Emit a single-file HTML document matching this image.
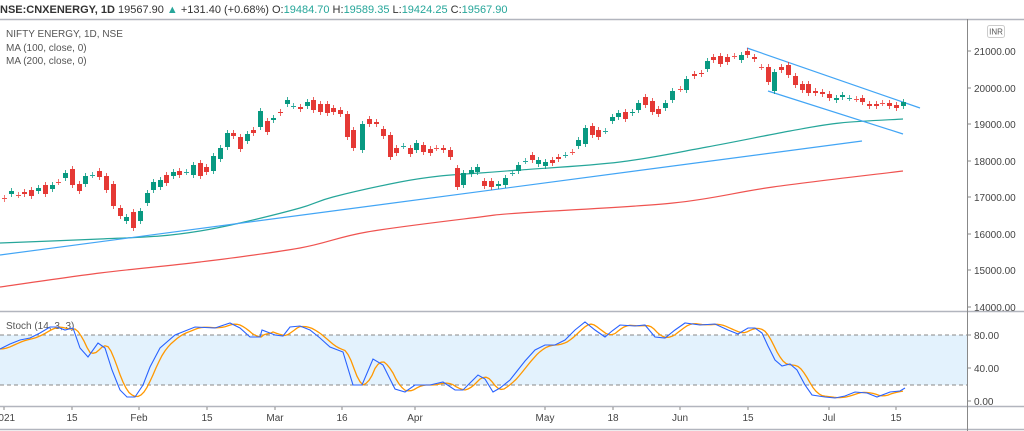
<!DOCTYPE html>
<html><head><meta charset="utf-8"><style>
html,body{margin:0;padding:0;background:#fff;width:1024px;height:431px;overflow:hidden;font-family:"Liberation Sans",sans-serif}
svg text{font-family:"Liberation Sans",sans-serif}
</style></head><body>
<svg id="s" width="1024" height="431" xmlns="http://www.w3.org/2000/svg">
<rect width="1024" height="431" fill="#fff"/>
<rect x="0" y="335" width="967" height="50" fill="#e3f2fd"/>
<line x1="0" y1="335" x2="967" y2="335" stroke="#888" stroke-dasharray="4,3" stroke-width="1"/>
<line x1="0" y1="385" x2="967" y2="385" stroke="#888" stroke-dasharray="4,3" stroke-width="1"/>
<line x1="0" y1="19.5" x2="1024" y2="19.5" stroke="#b2b5be" stroke-width="1.5"/>
<line x1="0" y1="311.5" x2="1024" y2="311.5" stroke="#b2b5be" stroke-width="1.5"/>
<line x1="0" y1="406.5" x2="1024" y2="406.5" stroke="#b2b5be" stroke-width="1.5"/>
<line x1="0" y1="429.5" x2="1024" y2="429.5" stroke="#b2b5be" stroke-width="1.5"/>
<line x1="967.5" y1="19" x2="967.5" y2="431" stroke="#888" stroke-width="1"/>
<text x="0" y="13" font-size="11" fill="#333"><tspan font-weight="bold">NSE:CNXENERGY, 1D</tspan> 19567.90 <tspan fill="#26a69a">▲</tspan> +131.40 (+0.68%) O:<tspan fill="#26a69a">19484.70</tspan> H:<tspan fill="#26a69a">19589.35</tspan> L:<tspan fill="#26a69a">19424.25</tspan> C:<tspan fill="#26a69a">19567.90</tspan></text>
<text x="6" y="37" font-size="10" fill="#555">NIFTY ENERGY, 1D, NSE</text>
<text x="6" y="51" font-size="10" fill="#555">MA (100, close, 0)</text>
<text x="6" y="64" font-size="10" fill="#555">MA (200, close, 0)</text>
<text x="6" y="329" font-size="10" fill="#555">Stoch (14, 3, 3)</text>
<rect x="987.5" y="25.5" width="17" height="12" rx="2" fill="#fff" stroke="#ccc"/>
<text x="996" y="34.5" font-size="8" fill="#555" text-anchor="middle">INR</text>
<g id="g"></g>
</svg>
<script>
var g=document.getElementById('g'),NS='http://www.w3.org/2000/svg';
function el(n,a){var e=document.createElementNS(NS,n);for(var k in a)e.setAttribute(k,a[k]);g.appendChild(e);return e;}
function txt(x,y,t,a,s){var e=el('text',{x:x,y:y,'font-size':s||10,fill:'#444','text-anchor':a||'start'});e.textContent=t;}
var p=[[21000,51],[20000,88],[19000,124],[18000,161],[17000,197],[16000,234],[15000,270],[14000,307]];
p.forEach(function(q){el('line',{x1:967,y1:q[1],x2:971,y2:q[1],stroke:'#888'});txt(974,q[1]+4,q[0]+'.00');});
[[80,335],[40,368],[0,401]].forEach(function(q){el('line',{x1:967,y1:q[1],x2:971,y2:q[1],stroke:'#888'});txt(974,q[1]+4,q[0].toFixed(2));});
[[4,'2021'],[72,'15'],[139,'Feb'],[207,'15'],[275,'Mar'],[342,'16'],[415,'Apr'],[545,'May'],[613,'18'],[680,'Jun'],[748,'15'],[829,'Jul'],[896,'15']].forEach(function(q){el('line',{x1:q[0],y1:407,x2:q[0],y2:410,stroke:'#888'});txt(q[0],421,q[1],'middle');});
function pl(pts,c,w){el('polyline',{points:pts.map(function(a){return a.join(',')}).join(' '),fill:'none',stroke:c,'stroke-width':w||1.2});}
function sm(P,c,w){var d='M'+P[0][0]+','+P[0][1];for(var i=0;i<P.length-1;i++){var p0=P[i-1]||P[i],p1=P[i],p2=P[i+1],p3=P[i+2]||p2;
d+=' C'+(p1[0]+(p2[0]-p0[0])/6)+','+(p1[1]+(p2[1]-p0[1])/6)+' '+(p2[0]-(p3[0]-p1[0])/6)+','+(p2[1]-(p3[1]-p1[1])/6)+' '+p2[0]+','+p2[1];}
el('path',{d:d,fill:'none',stroke:c,'stroke-width':w||1.2});}
sm([[0,287],[100,273],[200,262],[300,248],[367,232],[480,217],[520,213],[673,203],[773,187],[903,171]],'#ef5350');
sm([[0,243],[100,239],[160,236],[200,231],[240,223],[300,208],[333,197],[400,182],[440,176],[480,173],[520,170],[620,162],[707,147],[790,131],[840,123],[903,119]],'#26a69a');
pl([[0,255],[862,141]],'#42a5f5');
pl([[747,48],[920,108]],'#42a5f5');
pl([[768,91],[903,134]],'#42a5f5');
var C=[[4,198,199,'x'],[11,191,194,'g'],[18,195,195,'x'],[24,192,194,'r'],[31,190,196,'r'],[38,188,191,'g'],[45,185,194,'r'],[52,185,189,'g'],[58,182,182,'x'],[65,173,178,'g'],[72,169,185,'r'],[79,184,191,'r'],[85,176,184,'g'],[92,175,175,'x'],[99,171,177,'r'],[106,176,190,'r'],[113,184,206,'r'],[120,208,216,'r'],[126,217,221,'g'],[133,212,228,'r'],[140,211,221,'g'],[147,193,203,'g'],[153,182,190,'g'],[160,180,187,'g'],[166,175,183,'r'],[173,172,176,'g'],[179,171,175,'r'],[186,172,172,'x'],[193,165,175,'g'],[200,163,176,'r'],[206,167,172,'r'],[213,156,171,'g'],[220,148,159,'g'],[227,133,147,'g'],[233,133,136,'r'],[240,137,149,'r'],[247,134,141,'g'],[253,130,133,'r'],[260,111,127,'g'],[267,121,132,'r'],[273,118,120,'g'],[280,112,113,'r'],[287,100,104,'g'],[293,106,106,'x'],[300,107,109,'r'],[307,102,106,'g'],[313,100,110,'r'],[320,104,112,'r'],[327,104,113,'r'],[333,108,112,'r'],[340,110,114,'r'],[347,114,137,'r'],[353,130,148,'r'],[362,124,150,'g'],[369,119,124,'r'],[376,122,124,'r'],[383,129,136,'r'],[390,135,157,'r'],[396,148,153,'r'],[403,146,146,'x'],[410,148,154,'r'],[416,143,150,'g'],[423,145,152,'r'],[430,149,153,'r'],[436,148,148,'x'],[443,148,150,'r'],[450,150,157,'r'],[457,168,187,'r'],[463,173,185,'g'],[471,170,174,'g'],[477,167,172,'g'],[484,181,186,'r'],[491,181,187,'r'],[498,184,186,'g'],[505,178,185,'g'],[512,173,173,'x'],[518,165,171,'g'],[525,161,161,'x'],[532,155,160,'r'],[538,160,164,'g'],[545,162,166,'g'],[552,160,163,'r'],[558,157,159,'r'],[565,155,155,'x'],[572,152,152,'x'],[578,140,146,'g'],[585,128,144,'g'],[592,126,135,'r'],[598,130,137,'r'],[605,131,131,'x'],[612,117,121,'g'],[618,113,117,'g'],[625,112,119,'r'],[632,112,113,'g'],[638,103,110,'g'],[645,97,105,'r'],[652,101,112,'r'],[658,109,114,'r'],[665,103,108,'g'],[672,91,100,'g'],[680,89,89,'x'],[686,79,90,'g'],[694,74,76,'r'],[701,73,74,'r'],[707,61,69,'g'],[713,57,60,'r'],[720,56,64,'r'],[727,57,62,'r'],[734,56,56,'x'],[741,55,60,'g'],[747,51,55,'r'],[754,57,59,'r'],[761,67,67,'x'],[768,67,82,'r'],[774,72,91,'g'],[781,67,70,'r'],[788,65,75,'r'],[795,76,85,'r'],[802,84,90,'r'],[808,84,93,'r'],[815,91,93,'r'],[822,92,94,'r'],[829,94,98,'r'],[836,98,100,'g'],[842,95,97,'g'],[849,98,98,'x'],[856,99,99,'x'],[862,98,102,'r'],[869,104,106,'r'],[876,104,106,'r'],[882,103,103,'x'],[889,103,106,'r'],[896,105,108,'r'],[903,102,106,'g']];
C.forEach(function(c,i){var col=c[3]=='g'?'#089981':(c[3]=='r'?'#e53935':(i%2?'#26a69a':'#ef5350'));
el('line',{x1:c[0]+.5,y1:c[1]-3,x2:c[0]+.5,y2:c[2]+3,stroke:col,'stroke-width':1,opacity:.8});
var h=Math.max(c[2]-c[1],1);el('rect',{x:c[0]-2,y:c[1],width:5,height:h,fill:col});});
var K=[[0,349],[10,344],[20,340],[30,338],[40,333],[50,327],[57,327],[65,330],[73,328],[80,348],[88,357],[98,343],[105,348],[112,370],[120,390],[127,397],[135,397],[143,385],[150,367],[160,348],[175,335],[195,327],[215,328],[230,323],[240,328],[250,337],[260,337],[262,330],[275,335],[283,336],[290,327],[300,326],[310,330],[320,338],[330,347],[343,352],[353,385],[362,385],[373,359],[383,365],[395,389],[405,392],[415,385],[430,385],[443,382],[455,390],[463,390],[478,375],[485,379],[493,392],[500,388],[510,380],[525,361],[535,350],[545,345],[555,345],[565,340],[575,330],[585,322],[595,330],[605,337],[612,331],[620,325],[635,326],[645,325],[655,337],[665,338],[675,330],[685,323],[700,325],[715,324],[728,330],[738,334],[748,328],[755,328],[762,333],[768,346],[775,360],[782,366],[790,364],[797,370],[805,385],[812,395],[825,397],[835,398],[845,396],[855,392],[867,393],[877,397],[890,392],[900,391],[905,388]];
function ki(x){if(x<=K[0][0])return K[0][1];for(var i=1;i<K.length;i++)if(x<=K[i][0]){var a=K[i-1],b=K[i];return a[1]+(b[1]-a[1])*(x-a[0])/(b[0]-a[0]);}return K[K.length-1][1];}
var D=[];for(var x=0;x<=903;x+=3){D.push([x,((ki(x-2)+ki(x-6)+ki(x-10))/3).toFixed(1)]);}
pl(D,'#ff9800',1.3);pl(K,'#2962ff',1.1);
</script>
</body></html>
